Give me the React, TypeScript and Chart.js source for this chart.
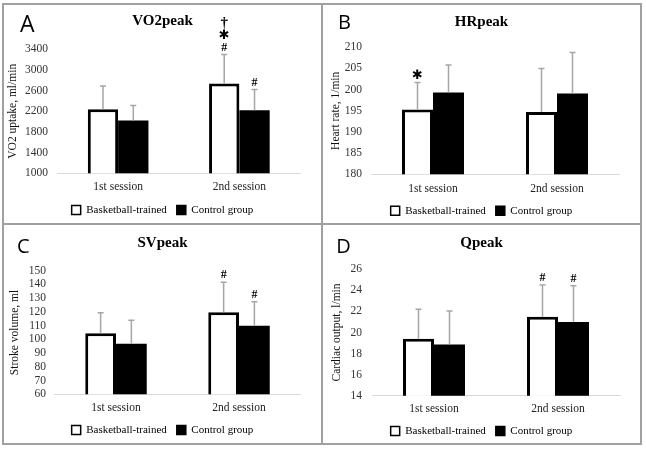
import React, { useEffect, useRef } from 'react';
import { Chart, registerables } from 'chart.js';

Chart.register(...registerables);

// ---------- data ----------
const categories = ['1st session', '2nd session'];
const seriesNames = ['Basketball-trained', 'Control group'];

// A: VO2peak
const vo2Basketball = [2240, 2740];
const vo2BasketballSD = [450, 560];
const vo2Control = [2020, 2220];
const vo2ControlSD = [290, 400];
const vo2BasketballMarks = [[], ['#', '✱', '†']];
const vo2ControlMarks = [[], ['#']];
const vo2Axis = [1000, 3400, 400]; // min, max, step

// B: HRpeak
const hrBasketball = [195.3, 194.7];
const hrBasketballSD = [6.4, 10.3];
const hrControl = [199.3, 199.1];
const hrControlSD = [6.5, 9.7];
const hrBasketballMarks = [['✱'], []];
const hrControlMarks = [[], []];
const hrAxis = [180, 210, 5];

// C: SVpeak
const svBasketball = [104.4, 119.7];
const svBasketballSD = [15.0, 21.8];
const svControl = [96.8, 110.0];
const svControlSD = [17.2, 17.4];
const svBasketballMarks = [[], ['#']];
const svControlMarks = [[], ['#']];
const svAxis = [60, 150, 10];

// D: Qpeak
const qBasketball = [19.4, 21.5];
const qBasketballSD = [2.8, 3.0];
const qControl = [18.85, 21.0];
const qControlSD = [3.2, 3.45];
const qBasketballMarks = [[], ['#']];
const qControlMarks = [[], ['#']];
const qAxis = [14, 26, 2];

// ---------- layout ----------
const SERIF = "'Liberation Serif', 'Times New Roman', serif";
const CELL_W = 319;

const panels = [
  {
    letter: 'A', letterSize: 23, letterX: 17, letterY: 27.7,
    title: 'VO2peak', yTitle: 'VO2 uptake, ml/min',
    left: 3, top: 4,
    caLeft: 54.5, caRight: 297, caTop: 45.3, caBottom: 169.3,
    titleY: 17, xLabelY: 183, legendY: 206, yTitleX: 10, tickRight: 45,
    axis: vo2Axis,
    a: vo2Basketball, aSD: vo2BasketballSD, aMarks: vo2BasketballMarks,
    b: vo2Control, bSD: vo2ControlSD, bMarks: vo2ControlMarks,
  },
  {
    letter: 'B', letterSize: 20, letterX: 16, letterY: 25.3,
    title: 'HRpeak', yTitle: 'Heart rate, 1/min',
    left: 322, top: 4,
    caLeft: 49, caRight: 297, caTop: 43.3, caBottom: 170.3,
    titleY: 17.7, xLabelY: 185, legendY: 206.7, yTitleX: 14, tickRight: 40,
    axis: hrAxis,
    a: hrBasketball, aSD: hrBasketballSD, aMarks: hrBasketballMarks,
    b: hrControl, bSD: hrControlSD, bMarks: hrControlMarks,
  },
  {
    letter: 'C', letterSize: 20, letterX: 14, letterY: 29.3,
    title: 'SVpeak', yTitle: 'Stroke volume, ml',
    left: 3, top: 224,
    caLeft: 51.5, caRight: 297.5, caTop: 46.7, caBottom: 170.3,
    titleY: 19, xLabelY: 183.7, legendY: 206, yTitleX: 12, tickRight: 43,
    axis: svAxis,
    a: svBasketball, aSD: svBasketballSD, aMarks: svBasketballMarks,
    b: svControl, bSD: svControlSD, bMarks: svControlMarks,
  },
  {
    letter: 'D', letterSize: 20, letterX: 14.3, letterY: 29.3,
    title: 'Qpeak', yTitle: 'Cardiac output, l/min',
    left: 322, top: 224,
    caLeft: 50, caRight: 298, caTop: 45.3, caBottom: 171.7,
    titleY: 19, xLabelY: 185, legendY: 207, yTitleX: 15, tickRight: 40,
    axis: qAxis,
    a: qBasketball, aSD: qBasketballSD, aMarks: qBasketballMarks,
    b: qControl, bSD: qControlSD, bMarks: qControlMarks,
  },
];

const markFont = (m: string) => {
  if (m === '✱') return "13px 'DejaVu Sans', sans-serif";
  if (m === '†') return `bold 15px ${SERIF}`;
  return `bold 12px ${SERIF}`;
};
const markOffsets = [7, 18.5, 31];

const decorPlugin = {
  id: 'decor',
  afterDatasetsDraw(chart: any, _args: any, opts: any) {
    const { ctx } = chart;
    const yScale = chart.scales.y;
    ctx.save();
    chart.data.datasets.forEach((ds: any, di: number) => {
      const meta = chart.getDatasetMeta(di);
      meta.data.forEach((el: any, i: number) => {
        const v = ds.data[i];
        const e = ds.errors[i];
        const x = el.x;
        const y0 = el.y;
        const y1 = yScale.getPixelForValue(v + e);
        ctx.strokeStyle = '#a6a6a6';
        ctx.lineWidth = 1.5;
        ctx.beginPath();
        ctx.moveTo(x, y0);
        ctx.lineTo(x, y1);
        ctx.moveTo(x - 3, y1);
        ctx.lineTo(x + 3, y1);
        ctx.stroke();
        const marks: string[] = (ds.marks && ds.marks[i]) || [];
        marks.forEach((m, k) => {
          ctx.fillStyle = '#000';
          ctx.font = markFont(m);
          ctx.textAlign = 'center';
          ctx.textBaseline = 'middle';
          ctx.fillText(m, x, y1 - markOffsets[k]);
        });
      });
    });
    ctx.fillStyle = '#000';
    ctx.font = `${opts.letterSize}px 'Open Sans', 'Liberation Sans', sans-serif`;
    ctx.textAlign = 'left';
    ctx.textBaseline = 'alphabetic';
    ctx.fillText(opts.letter, opts.letterX, opts.letterY);
    ctx.restore();
  },
};

function Panel({ p }: { p: any }) {
  const ref = useRef<HTMLCanvasElement | null>(null);
  const legendBottom = p.legendY + 15.5;
  const H = Math.ceil(legendBottom) + 1;
  useEffect(() => {
    if (!ref.current) return;
    const [min, max, step] = p.axis;
    const legendTop = p.legendY - 15.5;
    const xH = legendTop - p.caBottom;
    const chart = new Chart(ref.current, {
      type: 'bar',
      data: {
        labels: categories,
        datasets: [
          {
            label: seriesNames[0],
            data: p.a,
            errors: p.aSD,
            marks: p.aMarks,
            backgroundColor: '#ffffff',
            borderColor: '#000000',
            borderWidth: 3,
            borderSkipped: false,
          } as any,
          {
            label: seriesNames[1],
            data: p.b,
            errors: p.bSD,
            marks: p.bMarks,
            backgroundColor: '#000000',
            borderColor: '#000000',
            borderWidth: 0,
          } as any,
        ],
      },
      options: {
        responsive: false,
        animation: false,
        datasets: { bar: { categoryPercentage: 0.5, barPercentage: 1 } },
        layout: { padding: { left: 0, right: 0, top: 0, bottom: H - legendBottom } },
        plugins: {
          title: {
            display: true,
            text: p.title,
            color: '#000',
            font: { family: SERIF, size: 15, weight: 'bold' },
            padding: { top: p.titleY - 9, bottom: p.caTop - p.titleY - 9 },
          },
          legend: {
            position: 'bottom',
            labels: {
              font: { family: SERIF, size: 11 },
              color: '#000',
              boxWidth: 9,
              boxHeight: 9,
              padding: 10,
              generateLabels: (c: any) =>
                c.data.datasets.map((ds: any, i: number) => ({
                  text: ds.label,
                  fillStyle: ds.backgroundColor,
                  strokeStyle: '#000',
                  lineWidth: 1.5,
                  hidden: false,
                  datasetIndex: i,
                  fontColor: '#000',
                })),
            },
          },
          tooltip: { enabled: false },
          decor: { letter: p.letter, letterSize: p.letterSize, letterX: p.letterX, letterY: p.letterY },
        } as any,
        scales: {
          x: {
            grid: { display: false, drawTicks: false },
            border: { display: true, color: '#d9d9d9', width: 1 },
            ticks: {
              color: '#222',
              font: { family: SERIF, size: 11.5 },
              padding: p.xLabelY - p.caBottom - 6.9,
            },
            afterFit: (s: any) => { s.height = xH; },
          },
          y: {
            type: 'linear',
            position: 'left',
            min, max,
            ticks: {
              stepSize: step,
              autoSkip: false,
              color: '#333',
              font: { family: SERIF, size: 11.5 },
              padding: p.caLeft - p.tickRight,
              callback: (v: any) => String(v),
            },
            grid: { display: false, drawTicks: false },
            border: { display: false },
            title: {
              display: true,
              text: p.yTitle,
              color: '#111',
              font: { family: SERIF, size: 11.5 },
              padding: { top: p.yTitleX - 6.9, bottom: 0 },
            },
            afterFit: (s: any) => { s.width = p.caLeft; },
          },
          yR: {
            type: 'linear',
            axis: 'y',
            position: 'right',
            display: true,
            ticks: { display: false },
            grid: { display: false, drawTicks: false },
            border: { display: false },
            afterFit: (s: any) => { s.width = CELL_W - p.caRight; },
          },
        } as any,
      },
      plugins: [decorPlugin as any],
    });
    return () => chart.destroy();
  }, []);
  return (
    <canvas
      ref={ref}
      width={CELL_W}
      height={H}
      style={{ position: 'absolute', left: p.left, top: p.top, width: CELL_W, height: H }}
    />
  );
}

const frameColor = '#a0a0a0';

export default function App() {
  return (
    <div style={{ position: 'absolute', left: 0, top: 0, width: 646, height: 449, background: '#fff', overflow: 'hidden' }}>
      {panels.map((p) => (
        <Panel key={p.letter} p={p} />
      ))}
      <div style={{ position: 'absolute', left: 2, top: 3, width: 636, height: 438, border: `2px solid ${frameColor}` }} />
      <div style={{ position: 'absolute', left: 321, top: 3, width: 2, height: 442, background: frameColor }} />
      <div style={{ position: 'absolute', left: 2, top: 223, width: 640, height: 2, background: frameColor }} />
    </div>
  );
}
